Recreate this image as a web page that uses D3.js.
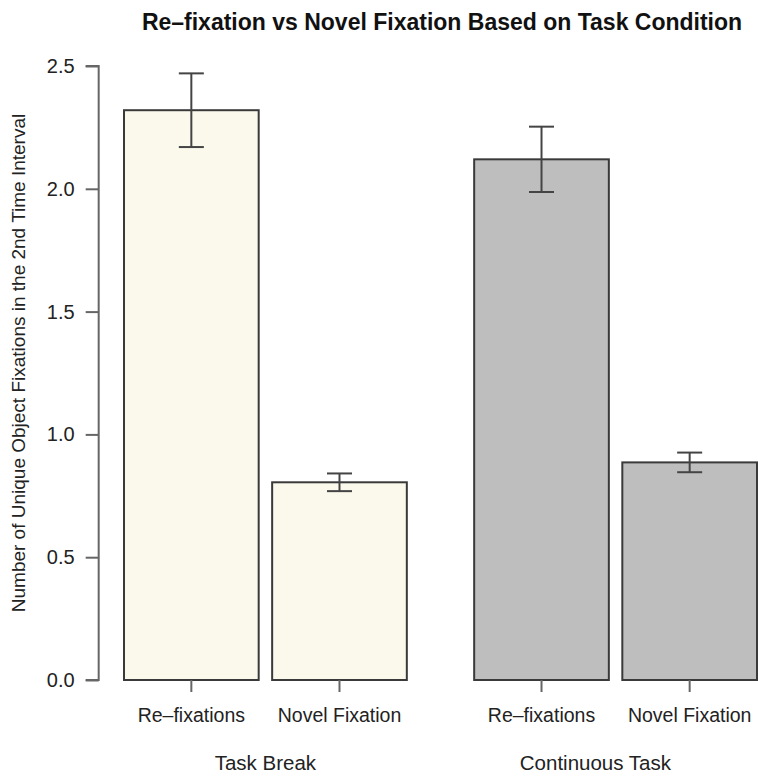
<!DOCTYPE html>
<html><head><meta charset="utf-8">
<script src="https://cdn.jsdelivr.net/npm/d3@7"></script>
<style>body{margin:0;background:#fff;} svg{display:block;font-family:"Liberation Sans",Arial,Helvetica,sans-serif;}</style>
</head><body>
<svg id="c" width="758" height="777"></svg>
<script>
const groups = ["Task Break", "Continuous Task"];
const categories = ["Re\u2013fixations", "Novel Fixation"];
const values = [[2.32, 0.805], [2.12, 0.886]];
const errors = [[0.15, 0.036], [0.133, 0.04]];
const yTicks = [0.0, 0.5, 1.0, 1.5, 2.0, 2.5];
const fills = ["#fbf9ec", "#bebebe"];

const svg = d3.select("#c");
// x in barplot units (bar width = 1, space within group 0.1, between groups 0.5)
const x = d3.scaleLinear().domain([0.5, 5.2]).range([124, 757]);
const y = d3.scaleLinear().domain([0, 2.5]).range([680, 66]);
const axisX = x(0.312);

const bars = [];
values.forEach((vals, g) => vals.forEach((v, j) => {
  const left = 0.5 + g * 2.6 + j * 1.1;
  bars.push({g, j, v, e: errors[g][j], left, right: left + 1, mid: left + 0.5});
}));

// bars
svg.selectAll("rect.bar").data(bars).join("rect")
  .attr("x", d => x(d.left)).attr("width", d => x(d.right) - x(d.left))
  .attr("y", d => y(d.v)).attr("height", d => y(0) - y(d.v))
  .attr("fill", d => fills[d.g]).attr("stroke", "#3a3a3a").attr("stroke-width", 2);

// error bars
const eb = svg.selectAll("g.eb").data(bars).join("g").attr("stroke", "#444").attr("stroke-width", 2);
eb.append("line").attr("x1", d => x(d.mid)).attr("x2", d => x(d.mid))
  .attr("y1", d => y(d.v + d.e)).attr("y2", d => y(d.v - d.e));
eb.append("line").attr("x1", d => x(d.mid) - 12.5).attr("x2", d => x(d.mid) + 12.5)
  .attr("y1", d => y(d.v + d.e)).attr("y2", d => y(d.v + d.e));
eb.append("line").attr("x1", d => x(d.mid) - 12.5).attr("x2", d => x(d.mid) + 12.5)
  .attr("y1", d => y(d.v - d.e)).attr("y2", d => y(d.v - d.e));

// y axis
const yAxis = d3.axisLeft(y).tickValues(yTicks).tickFormat(d3.format(".1f")).tickSize(13).tickPadding(11);
const ya = svg.append("g").attr("transform", `translate(${axisX},0)`).call(yAxis);
ya.select(".domain").attr("stroke", "#666").attr("stroke-width", 2).attr("d", `M-13,${y(2.5)}H0V${y(0)}H-13`);
ya.selectAll(".tick line").attr("stroke", "#666").attr("stroke-width", 2);
ya.selectAll(".tick text").attr("font-size", 20).attr("fill", "#222").attr("font-family", "Liberation Sans, Arial, sans-serif");

// x ticks and category labels
svg.selectAll("line.xt").data(bars).join("line")
  .attr("x1", d => x(d.mid)).attr("x2", d => x(d.mid)).attr("y1", y(0)).attr("y2", y(0) + 12)
  .attr("stroke", "#666").attr("stroke-width", 2);
svg.selectAll("text.cat").data(bars).join("text")
  .attr("x", d => x(d.mid)).attr("y", 722).attr("text-anchor", "middle")
  .attr("font-size", 19.5).attr("fill", "#222").text(d => categories[d.j]);

// group labels
const groupAt = [1.55, 4.0];
svg.selectAll("text.grp").data(groups).join("text")
  .attr("x", (d, i) => x(groupAt[i])).attr("y", 770).attr("text-anchor", "middle")
  .attr("font-size", 20.5).attr("fill", "#222").text(d => d);

// y label
svg.append("text").attr("transform", `translate(25,${(y(2.5)+y(0))/2 - 10}) rotate(-90)`)
  .attr("text-anchor", "middle").attr("font-size", 19).attr("fill", "#222")
  .text("Number of Unique Object Fixations in the 2nd Time Interval");

// title
svg.append("text").attr("x", 442).attr("y", 30).attr("text-anchor", "middle")
  .attr("font-size", 23).attr("font-weight", "bold").attr("fill", "#111")
  .text("Re\u2013fixation vs Novel Fixation Based on Task Condition");
</script>
</body></html>
